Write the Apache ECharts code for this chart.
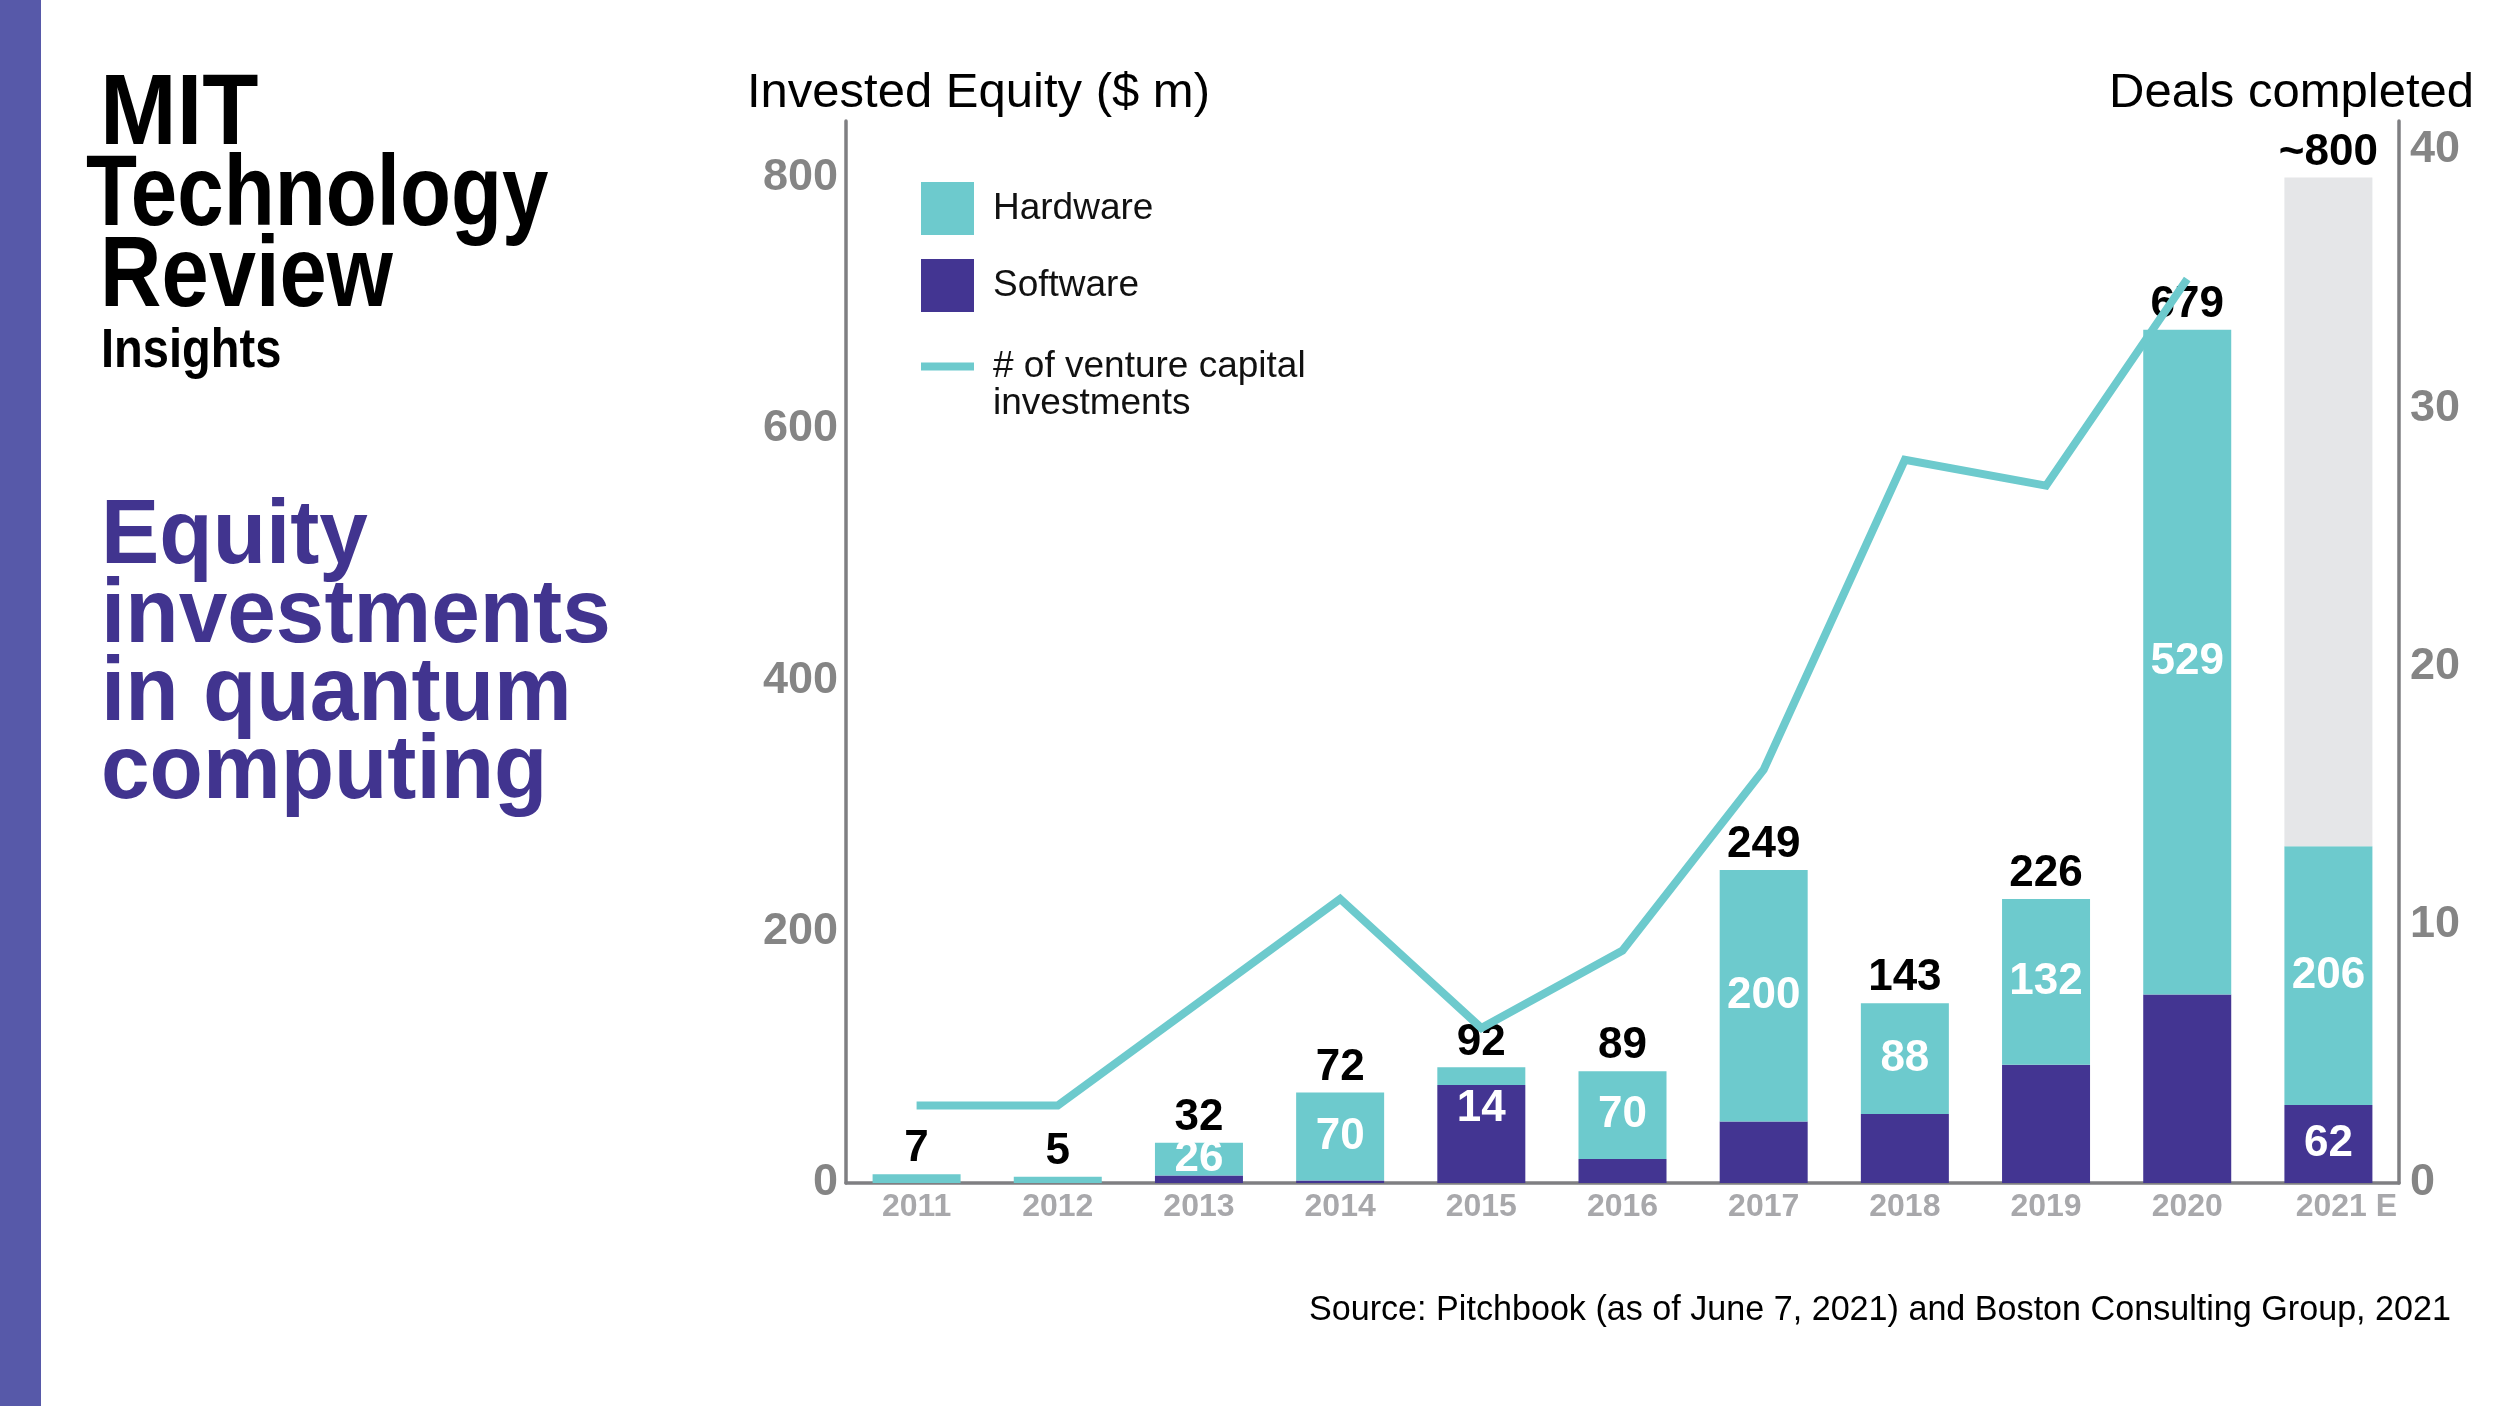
<!DOCTYPE html>
<html><head><meta charset="utf-8">
<script src="https://cdn.jsdelivr.net/npm/echarts@6/dist/echarts.min.js"></script>
<style>html,body{margin:0;padding:0;background:#fff}#c{width:2500px;height:1406px}</style>
</head><body><div id="c"></div>
<script>
// ---- data ----
const years = ['2011','2012','2013','2014','2015','2016','2017','2018','2019','2020','2021 E'];
const hardware = [7,5,26,70,14,70,200,88,132,529,206];
const software = [0,0,6,2,78,19,49,55,94,150,62];
const estimate = [0,0,0,0,0,0,0,0,0,0,532];
const totalLabels = ['7','5','32','72','92','89','249','143','226','679','~800'];
const hardwareLabelled = [false,false,true,true,true,true,true,true,true,true,true];
const softwareLabelled = [false,false,false,false,false,false,false,false,false,false,true];
const vcDeals = [3,3,7,11,6,9,16,28,27,35,null];
const leftTicks = [0,200,400,600,800];
const rightTicks = [0,10,20,30,40];

// ---- styles ----
const FONT = '"Liberation Sans", Arial, Helvetica, sans-serif';
const CYAN = '#6dcacd', PURPLE = '#433592', GRAYBAR = '#e5e6e8', AXIS = '#7f7f82';
const valueLabel = {color:'#fff', fontSize:44, fontWeight:'bold', fontFamily:FONT, textBorderWidth:0};

const chart = echarts.init(document.getElementById('c'), null, {renderer:'canvas', width:2500, height:1406});

const hwData = hardware.map((v,i) => {
  const it = {value:v};
  if (hardwareLabelled[i]) it.label = {show:true, position: i === 4 ? 'bottom' : 'inside', distance: 2};
  return it;
});
const swData = software.map((v,i) => {
  const it = {value:v};
  if (softwareLabelled[i]) it.label = {show:true, position:'inside'};
  return it;
});
const xData = years.map((y,i) => i === years.length - 1 ? {value:y, textStyle:{padding:[0,0,0,36]}} : y);

const option = {
  backgroundColor:'#fff',
  animation:false,
  grid:{left:846, right:101, top:121, bottom:223, containLabel:false, outerBoundsMode:'none'},
  legend:[
    {data:['Hardware','Software'], orient:'vertical', left:921, top:182, padding:0,
     itemWidth:53, itemHeight:53, itemGap:24, icon:'rect', selectedMode:false,
     textStyle:{fontSize:37, fontFamily:FONT, color:'#111', padding:[0,0,0,14]}},
    {data:['# of venture capital\ninvestments'], orient:'vertical', left:921, top:311, padding:0,
     itemWidth:53, itemHeight:8, icon:'rect', selectedMode:false,
     formatter: n => ' \n' + n,
     textStyle:{fontSize:37, lineHeight:37, fontFamily:FONT, color:'#111', padding:[0,0,0,14]}}
  ],
  xAxis:{type:'category', data:xData,
    axisLine:{show:true, lineStyle:{color:AXIS, width:3.5}}, axisTick:{show:false},
    axisLabel:{color:'#a8a8ab', fontSize:32, fontWeight:'bold', fontFamily:FONT, margin:8}},
  yAxis:[
    {type:'value', min:0, max:845, interval:200, position:'left',
     axisLine:{show:true, lineStyle:{color:AXIS, width:3.5}}, axisTick:{show:false}, splitLine:{show:false},
     axisLabel:{color:'#858585', fontSize:45, fontWeight:'bold', fontFamily:FONT, margin:8,
       formatter: v => leftTicks.includes(v) ? String(v) : ''}},
    {type:'value', min:0, max:41.12, interval:10, position:'right',
     axisLine:{show:true, lineStyle:{color:AXIS, width:3.5}}, axisTick:{show:false}, splitLine:{show:false},
     axisLabel:{color:'#858585', fontSize:45, fontWeight:'bold', fontFamily:FONT, margin:11,
       formatter: v => rightTicks.includes(v) ? String(v) : ''}}
  ],
  series:[
    {name:'Software', type:'bar', stack:'eq', barWidth:88, data:swData,
     itemStyle:{color:PURPLE}, label:Object.assign({show:false}, valueLabel)},
    {name:'Hardware', type:'bar', stack:'eq', barWidth:88, data:hwData,
     itemStyle:{color:CYAN}, label:Object.assign({show:false}, valueLabel)},
    {name:'Estimate', type:'bar', stack:'eq', barWidth:88, data:estimate,
     itemStyle:{color:GRAYBAR},
     label:{show:true, position:'top', distance:3, color:'#000', fontSize:44, fontWeight:'bold', fontFamily:FONT,
       formatter: p => totalLabels[p.dataIndex]}},
    {name:'# of venture capital\ninvestments', type:'line', yAxisIndex:1, data:vcDeals,
     symbol:'none', z:5, itemStyle:{color:CYAN},
     lineStyle:{color:CYAN, width:8, join:'miter'}}
  ],
  graphic:[
    {type:'rect', shape:{x:0, y:0, width:41, height:1406}, style:{fill:'#5759a9'}},
    {type:'text', x:100, y:116, scaleX:0.92, style:{text:'MIT', fontSize:100, fontWeight:'bold', fontFamily:FONT, fill:'#000', verticalAlign:'middle'}},
    {type:'text', x:86, y:197, scaleX:0.835, style:{text:'Technology', fontSize:100, fontWeight:'bold', fontFamily:FONT, fill:'#000', verticalAlign:'middle'}},
    {type:'text', x:100, y:278, scaleX:0.85, style:{text:'Review', fontSize:100, fontWeight:'bold', fontFamily:FONT, fill:'#000', verticalAlign:'middle'}},
    {type:'text', x:101, y:352, scaleX:0.84, style:{text:'Insights', fontSize:56, fontWeight:'bold', fontFamily:FONT, fill:'#000', verticalAlign:'middle'}},
    {type:'text', x:101, y:538, scaleX:0.96, style:{text:'Equity', fontSize:91, fontWeight:'bold', fontFamily:FONT, fill:'#41348f', verticalAlign:'middle'}},
    {type:'text', x:101, y:617, scaleX:0.96, style:{text:'investments', fontSize:91, fontWeight:'bold', fontFamily:FONT, fill:'#41348f', verticalAlign:'middle'}},
    {type:'text', x:101, y:695, scaleX:0.96, style:{text:'in quantum', fontSize:91, fontWeight:'bold', fontFamily:FONT, fill:'#41348f', verticalAlign:'middle'}},
    {type:'text', x:101, y:773, scaleX:0.96, style:{text:'computing', fontSize:91, fontWeight:'bold', fontFamily:FONT, fill:'#41348f', verticalAlign:'middle'}},
    {type:'text', x:747, y:93, style:{text:'Invested Equity ($ m)', fontSize:49, fontFamily:FONT, fill:'#000', verticalAlign:'middle'}},
    {type:'text', x:2474, y:93, style:{text:'Deals completed', fontSize:49, fontFamily:FONT, fill:'#000', align:'right', verticalAlign:'middle'}},
    {type:'text', x:2451, y:1310, scaleX:0.975, style:{text:'Source: Pitchbook (as of June 7, 2021) and Boston Consulting Group, 2021', fontSize:35, fontFamily:FONT, fill:'#000', align:'right', verticalAlign:'middle'}}
  ]
};
chart.setOption(option);
</script>
</body></html>
